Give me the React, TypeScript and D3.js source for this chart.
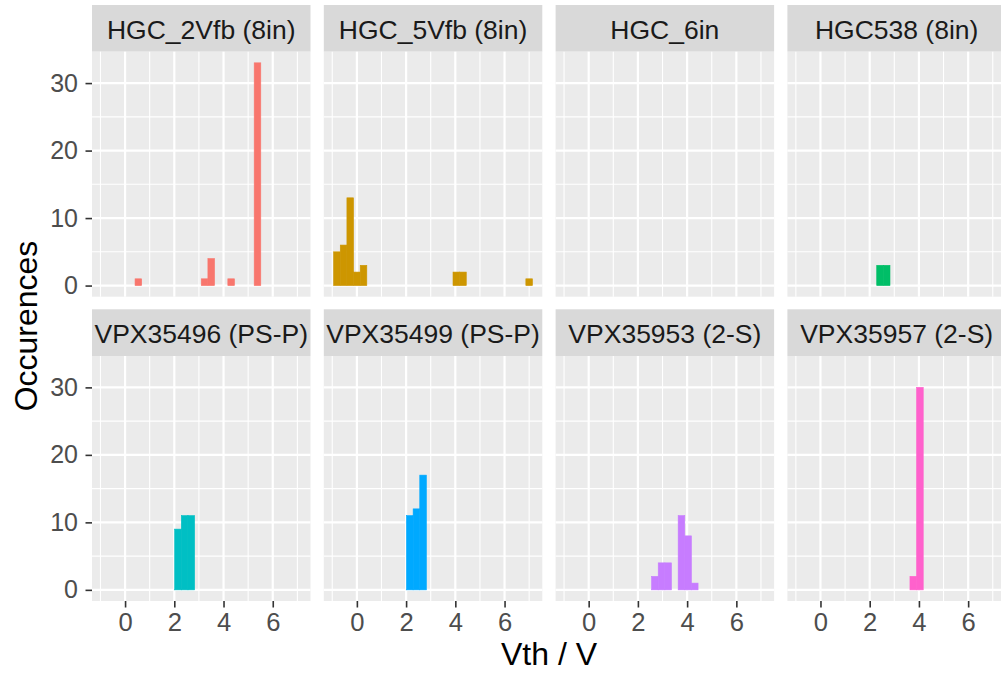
import { useEffect, useRef } from 'react'
import * as d3 from 'd3'

const panelNames = ['HGC_2Vfb (8in)', 'HGC_5Vfb (8in)', 'HGC_6in', 'HGC538 (8in)',
  'VPX35496 (PS-P)', 'VPX35499 (PS-P)', 'VPX35953 (2-S)', 'VPX35957 (2-S)']
const panelColors = ['#F8766D', '#CD9600', '#7CAE00', '#00BE67', '#00BFC4', '#00A9FF', '#C77CFF', '#FF61CC']

// histogram bins: centre of each bin (V) and its count, binwidth ~0.269 V
const binWidth = 0.269
const hgc2Centers = [0.54, 3.23, 3.5, 4.31, 5.38]
const hgc2Counts = [1, 1, 4, 1, 33]
const hgc5Centers = [-0.81, -0.54, -0.27, 0.0, 0.27, 4.04, 4.31, 7.0]
const hgc5Counts = [5, 6, 13, 2, 3, 2, 2, 1]
const hgc6Centers: number[] = []
const hgc6Counts: number[] = []
const hgc538Centers = [2.42, 2.69]
const hgc538Counts = [3, 3]
const vpx496Centers = [2.15, 2.42, 2.69]
const vpx496Counts = [9, 11, 11]
const vpx499Centers = [2.15, 2.42, 2.69]
const vpx499Counts = [11, 12, 17]
const vpx953Centers = [2.69, 2.96, 3.23, 3.77, 4.04, 4.31]
const vpx953Counts = [2, 4, 4, 11, 8, 1]
const vpx957Centers = [3.77, 4.04]
const vpx957Counts = [2, 30]

const allCenters = [hgc2Centers, hgc5Centers, hgc6Centers, hgc538Centers, vpx496Centers, vpx499Centers, vpx953Centers, vpx957Centers]
const allCounts = [hgc2Counts, hgc5Counts, hgc6Counts, hgc538Counts, vpx496Counts, vpx499Counts, vpx953Counts, vpx957Counts]

const xTicks = [0, 2, 4, 6]
const xMinor = [-1, 1, 3, 5, 7]
const yTicks = [0, 10, 20, 30]
const yMinor = [5, 15, 25]

const FONT = '"Liberation Sans", Arial, Helvetica, sans-serif'

function App() {
  const ref = useRef<SVGSVGElement>(null)

  useEffect(() => {
    document.body.style.margin = '0'
    const svg = d3.select(ref.current)
    svg.selectAll('*').remove()

    const panelLeft = 92, colStep = 231.8, pw = 218.5
    const stripTop = [5, 309.3], stripH = 46.7, ph = 245

    const x = d3.scaleLinear().domain([-1.3435, 7.5335]).range([0, pw])
    const y = d3.scaleLinear().domain([-1.65, 34.65]).range([ph, 0])

    panelNames.forEach((name, i) => {
      const col = i % 4, row = Math.floor(i / 4)
      const g = svg.append('g')
        .attr('transform', `translate(${panelLeft + col * colStep},${stripTop[row]})`)

      // strip
      g.append('rect').attr('width', pw).attr('height', stripH).attr('fill', '#D9D9D9')
      g.append('text')
        .attr('x', pw / 2).attr('y', 34)
        .attr('text-anchor', 'middle')
        .style('font', `26.5px ${FONT}`)
        .attr('fill', '#1A1A1A')
        .text(name)

      const p = g.append('g').attr('transform', `translate(0,${stripH})`)
      p.append('rect').attr('width', pw).attr('height', ph).attr('fill', '#EBEBEB')

      p.selectAll('.xmin').data(xMinor).enter().append('line')
        .attr('x1', d => x(d)).attr('x2', d => x(d)).attr('y1', 0).attr('y2', ph)
        .attr('stroke', '#fff').attr('stroke-width', 1.1)
      p.selectAll('.ymin').data(yMinor).enter().append('line')
        .attr('y1', d => y(d)).attr('y2', d => y(d)).attr('x1', 0).attr('x2', pw)
        .attr('stroke', '#fff').attr('stroke-width', 1.1)
      p.selectAll('.xmaj').data(xTicks).enter().append('line')
        .attr('x1', d => x(d)).attr('x2', d => x(d)).attr('y1', 0).attr('y2', ph)
        .attr('stroke', '#fff').attr('stroke-width', 2.2)
      p.selectAll('.ymaj').data(yTicks).enter().append('line')
        .attr('y1', d => y(d)).attr('y2', d => y(d)).attr('x1', 0).attr('x2', pw)
        .attr('stroke', '#fff').attr('stroke-width', 2.2)

      const centers = allCenters[i], counts = allCounts[i]
      p.selectAll('.bar').data(centers).enter().append('rect')
        .attr('x', d => x(d - binWidth / 2))
        .attr('width', d => x(d + binWidth / 2) - x(d - binWidth / 2))
        .attr('y', (d, j) => y(counts[j]))
        .attr('height', (d, j) => y(0) - y(counts[j]))
        .attr('fill', panelColors[i])
        .attr('stroke', panelColors[i])
        .attr('stroke-width', 0.6)

      if (col === 0) {
        const ax = p.append('g')
          .call(d3.axisLeft(y).tickValues(yTicks).tickSize(6.5).tickPadding(7.5))
        ax.select('.domain').remove()
        ax.selectAll('line').attr('stroke', '#333333').attr('stroke-width', 1.6)
        ax.selectAll('text').attr('fill', '#4D4D4D').style('font', `25px ${FONT}`)
      }
      if (row === 1) {
        const ax = p.append('g').attr('transform', `translate(0,${ph})`)
          .call(d3.axisBottom(x).tickValues(xTicks).tickSize(6.5).tickPadding(5.2))
        ax.select('.domain').remove()
        ax.selectAll('line').attr('stroke', '#333333').attr('stroke-width', 1.6)
        ax.selectAll('text').attr('fill', '#4D4D4D').style('font', `25.6px ${FONT}`)
      }
    })

    svg.append('text')
      .attr('x', 549).attr('y', 665)
      .attr('text-anchor', 'middle')
      .style('font', `32px ${FONT}`)
      .attr('fill', '#000')
      .text('Vth / V')

    svg.append('text')
      .attr('transform', 'translate(37,326) rotate(-90)')
      .attr('text-anchor', 'middle')
      .style('font', `32px ${FONT}`)
      .attr('fill', '#000')
      .text('Occurences')
  }, [])

  return (
    <div>
      <svg ref={ref} width={1001} height={673} style={{ display: 'block', background: '#fff' }} />
    </div>
  )
}

export default App
